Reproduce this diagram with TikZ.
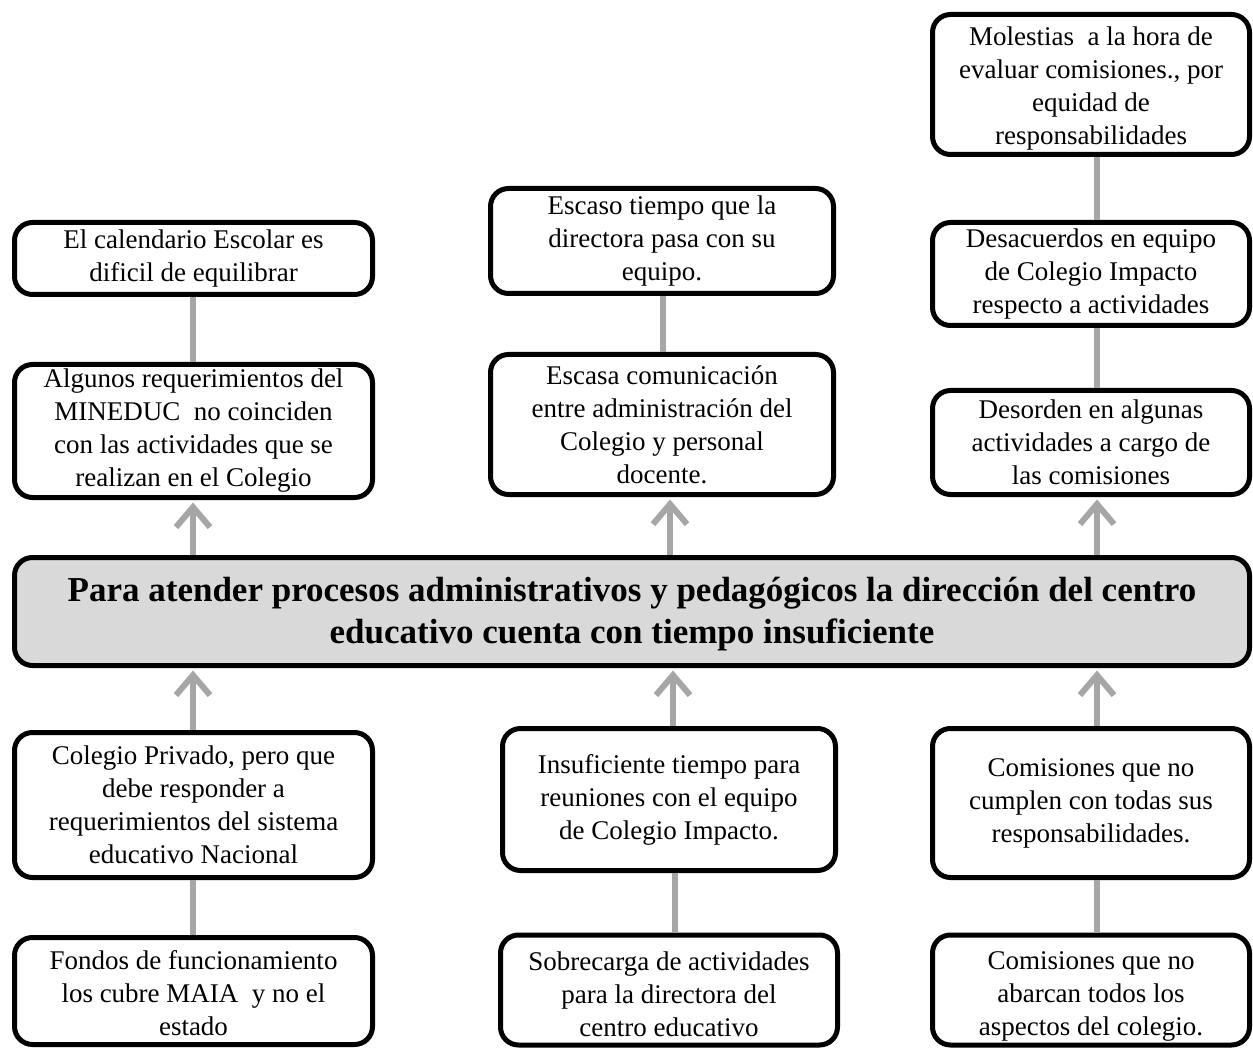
\documentclass[tikz,border=0pt]{standalone}
\usepackage{fontspec}
\setmainfont{Liberation Serif}
\usetikzlibrary{arrows.meta}
\definecolor{conn}{HTML}{A6A6A6}
\definecolor{mainfill}{HTML}{D9D9D9}
\newcommand{\dropline}[1]{\rule{0pt}{#1pt}}
\tikzset{
  box/.style={draw=black, line width=5pt, rounded corners=18pt, fill=white,
    align=center, inner sep=0pt, font=\fontsize{27}{33}\selectfont},
  mainbox/.style={box, fill=mainfill, font=\fontsize{35}{42}\selectfont\bfseries},
  link/.style={draw=conn, line width=6pt},
  arr/.style={link, -{Straight Barb[length=20pt, width=34pt, line width=6pt]}},
}
\begin{document}
\begin{tikzpicture}[x=1pt,y=1pt]
\useasboundingbox (0,0) rectangle (1253,-1048);
% left column
\node[box, minimum width=358pt, minimum height=72pt] (L1) at (193.5,-258.5) {El calendario Escolar es\\dificil de equilibrar};
\node[box, minimum width=358pt, minimum height=133pt] (L2) at (193.5,-431) {Algunos requerimientos del\\MINEDUC\ \ no coinciden\\con las actividades que se\\realizan en el Colegio};
\node[mainbox, minimum width=1235pt, minimum height=108pt] (C) at (632,-611.5) {\dropline{30}Para atender procesos administrativos y pedagógicos la dirección del centro\\educativo cuenta con tiempo insuficiente};
\node[box, minimum width=358pt, minimum height=145pt] (L3) at (193.5,-805) {Colegio Privado, pero que\\debe responder a\\requerimientos del sistema\\educativo Nacional};
\node[box, minimum width=358pt, minimum height=107pt] (L4) at (193.5,-991) {\dropline{24}Fondos de funcionamiento\\los cubre MAIA\ \ y no el\\estado};
% middle column
\node[box, minimum width=343pt, minimum height=105pt] (M1) at (662,-241) {Escaso tiempo que la\\directora pasa con su\\equipo.};
\node[box, minimum width=343pt, minimum height=140pt] (M2) at (662,-424.5) {Escasa comunicación\\entre administración del\\Colegio y personal\\docente.};
\node[box, minimum width=333pt, minimum height=142pt] (M3) at (669,-799.5) {Insuficiente tiempo para\\reuniones con el equipo\\de Colegio Impacto.};
\node[box, minimum width=337pt, minimum height=110pt] (M4) at (669,-990) {\dropline{28}Sobrecarga de actividades\\para la directora del\\centro educativo};
% right column
\node[box, minimum width=317pt, minimum height=140pt] (R1) at (1091,-84.5) {\dropline{27}Molestias\ \ a la hora de\\evaluar comisiones., por\\equidad de\\responsabilidades};
\node[box, minimum width=317pt, minimum height=103pt] (R2) at (1091,-274) {Desacuerdos en equipo\\de Colegio Impacto\\respecto a actividades};
\node[box, minimum width=317pt, minimum height=104pt] (R3) at (1091,-442.5) {Desorden en algunas\\actividades a cargo de\\las comisiones};
\node[box, minimum width=317pt, minimum height=149pt] (R4) at (1091,-803) {Comisiones que no\\cumplen con todas sus\\responsabilidades.};
\node[box, minimum width=317pt, minimum height=110pt] (R5) at (1091,-990) {\dropline{31}Comisiones que no\\abarcan todos los\\aspectos del colegio.};
% plain links
\draw[link] (L2.north -| 193,0) -- (L1.south -| 193,0);
\draw[link] (M2.north -| 663,0) -- (M1.south -| 663,0);
\draw[link] (R3.north -| 1097,0) -- (R2.south -| 1097,0);
\draw[link] (R2.north -| 1097,0) -- (R1.south -| 1097,0);
\draw[link] (L4.north -| 193,0) -- (L3.south -| 193,0);
\draw[link] (M4.north -| 675,0) -- (M3.south -| 675,0);
\draw[link] (R5.north -| 1097,0) -- (R4.south -| 1097,0);
% arrows
\draw[arr] (C.north -| 193,0) -- ([yshift=-2.5pt]L2.south -| 193,0);
\draw[arr] (C.north -| 670,0) -- ([yshift=-2.5pt]M2.south -| 670,0);
\draw[arr] (C.north -| 1097,0) -- ([yshift=-2.5pt]R3.south -| 1097,0);
\draw[arr] (L3.north -| 193,0) -- ([yshift=-2.5pt]C.south -| 193,0);
\draw[arr] (M3.north -| 673,0) -- ([yshift=-2.5pt]C.south -| 673,0);
\draw[arr] (R4.north -| 1097,0) -- ([yshift=-2.5pt]C.south -| 1097,0);
\end{tikzpicture}
\end{document}
